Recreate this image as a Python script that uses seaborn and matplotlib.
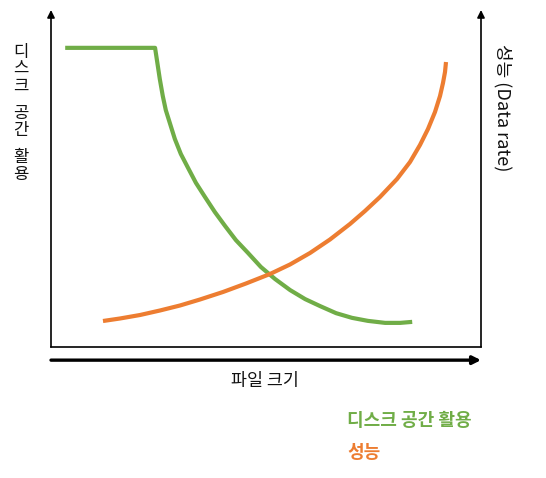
import matplotlib
matplotlib.use("Agg")
import matplotlib.pyplot as plt
import seaborn as sns
import pandas as pd

# Data (arbitrary 0-100 units)
disk_x = [3.3, 24.2, 24.7, 25.3, 26.0, 26.7, 27.7, 28.8, 30.2, 31.9, 33.7, 35.8, 38.1,
          40.5, 43.0, 45.8, 48.8, 52.1, 55.6, 59.1, 62.6, 66.3, 70.0, 73.7, 77.7, 81.2, 84.0]
disk_y = [89.3, 89.3, 85.1, 80.0, 74.9, 70.7, 66.6, 62.1, 57.6, 53.4, 49.0, 44.8, 40.3,
          36.1, 31.9, 28.1, 23.9, 20.3, 17.0, 14.3, 12.2, 10.1, 8.7, 7.8, 7.2, 7.2, 7.5]
perf_x = [12.09, 16.05, 20.70, 25.35, 30.0, 34.65, 40.0, 45.35, 50.93, 55.58, 60.23, 64.88,
          69.53, 73.02, 76.51, 80.47, 83.49, 85.81, 87.67, 89.30, 90.47, 91.16, 91.63, 91.86]
perf_y = [7.76, 8.51, 9.55, 10.90, 12.39, 14.18, 16.42, 18.96, 21.79, 24.63, 28.06, 32.09,
          36.72, 40.60, 44.78, 50.15, 55.22, 60.30, 65.07, 70.15, 74.93, 78.81, 82.09, 85.07]

series_names = ["디스크 공간 활용", "성능"]
x_label = "파일 크기"
left_label_words = ["디스크", "공간", "활용"]
right_label = "성능 (Data rate)"

green = "#70AD47"
orange = "#ED7D31"

sns.set_style("white")
plt.rcParams["font.family"] = ["Noto Sans CJK KR", "DejaVu Sans"]

fig = plt.figure(figsize=(5.46, 4.78), dpi=100)
W, H = 546, 478
ax = fig.add_axes([51 / W, 1 - 347 / H, 430 / W, 337 / H])

df_disk = pd.DataFrame({"x": disk_x, "y": disk_y})
df_perf = pd.DataFrame({"x": perf_x, "y": perf_y})
sns.lineplot(data=df_disk, x="x", y="y", ax=ax, color=green, lw=3, sort=False,
             solid_capstyle="butt", solid_joinstyle="round")
sns.lineplot(data=df_perf, x="x", y="y", ax=ax, color=orange, lw=3, sort=False,
             solid_capstyle="butt", solid_joinstyle="round")

ax.set_xlim(0, 100)
ax.set_ylim(0, 337 / 3.35)
ax.set_xticks([])
ax.set_yticks([])
ax.set_xlabel("")
ax.set_ylabel("")
for s in ["left", "right", "top"]:
    ax.spines[s].set_visible(False)
ax.spines["bottom"].set_color("black")
ax.spines["bottom"].set_linewidth(1.2)

arrow_kw = dict(arrowstyle="-|>", color="black", lw=1.2, mutation_scale=11,
                shrinkA=0, shrinkB=0)
ax.annotate("", xy=(0, 1.0), xytext=(0, 0), xycoords="axes fraction",
            textcoords="axes fraction", arrowprops=arrow_kw, annotation_clip=False)
ax.annotate("", xy=(1, 1.0), xytext=(1, 0), xycoords="axes fraction",
            textcoords="axes fraction", arrowprops=arrow_kw, annotation_clip=False)
ax.annotate("", xy=(1.0, -0.039), xytext=(0, -0.039), xycoords="axes fraction",
            textcoords="axes fraction",
            arrowprops=dict(arrowstyle="-|>", color="black", lw=2.4, mutation_scale=12,
                            shrinkA=0, shrinkB=0),
            annotation_clip=False)

# Left vertical stacked label
word_centers = [69, 122, 166]
for word, yc in zip(left_label_words, word_centers):
    fig.text(21 / W, 1 - yc / H, "\n".join(word), ha="center", va="center",
             fontsize=12, linespacing=1.0, color="#111111")

# Right rotated label
fig.text(503 / W, 1 - 108 / H, right_label, rotation=-90, ha="center", va="center",
         fontsize=13, color="#111111")

# X label
fig.text(265 / W, 1 - 381 / H, x_label, ha="center", va="center", fontsize=12.5,
         color="#111111")

# Legend-like labels
fig.text(347 / W, 1 - 420 / H, series_names[0], ha="left", va="center", fontsize=13,
         fontweight="bold", color=green)
fig.text(347 / W, 1 - 453 / H, series_names[1], ha="left", va="center", fontsize=13,
         fontweight="bold", color=orange)

fig.savefig("out.png", dpi=100)
